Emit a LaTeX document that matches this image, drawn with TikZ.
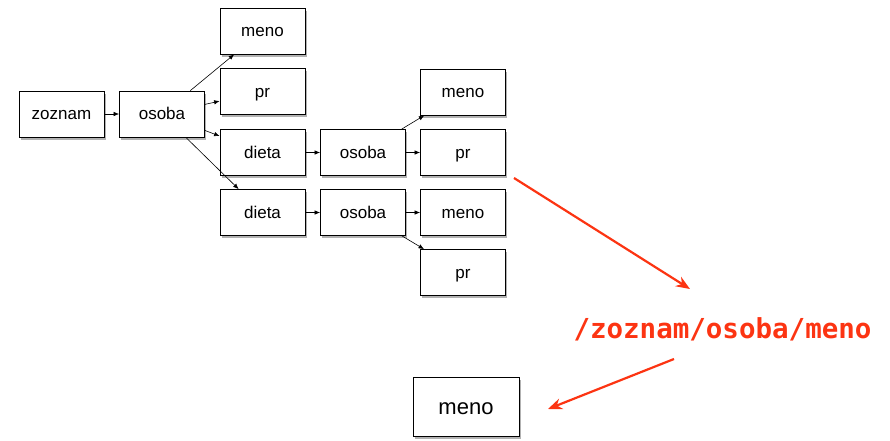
\documentclass[tikz,border=0pt]{standalone}
\usepackage{fontspec}
\setmainfont{Liberation Sans}
\newfontfamily\pathfont{DejaVu Sans Mono}
\usetikzlibrary{arrows.meta,shadows}
\definecolor{hotred}{RGB}{252,52,18}
\tikzset{
  box/.style={draw, line width=0.8pt, fill=white, minimum width=85pt, minimum height=46pt,
    inner sep=0pt, text height=14.5pt, text depth=3pt, font=\fontsize{17}{20}\selectfont,
    drop shadow={shadow xshift=1.5pt, shadow yshift=-2.5pt, opacity=0.3, fill=black}},
  bigbox/.style={box, minimum width=106pt, minimum height=59pt, text height=19pt, text depth=3.5pt,
    font=\fontsize{22}{26}\selectfont},
  link/.style={line width=0.6pt, -{Latex[length=5.5pt,width=4.5pt]}},
  redlink/.style={hotred, line width=2.2pt, -{Stealth[length=14pt,width=11pt]}}
}
\begin{document}
\begin{tikzpicture}[x=1pt,y=-1pt]
\useasboundingbox (0,0) rectangle (890,440);
\node[box] (zoznam) at (61.5,114) {zoznam};
\node[box] (osoba) at (162,114) {osoba};
\node[box] (meno) at (262.5,31) {meno};
\node[box] (pr) at (262.5,91.5) {pr};
\node[box] (dietaA) at (262.5,152.5) {dieta};
\node[box] (dietaB) at (262.5,212.5) {dieta};
\node[box] (osobaA) at (363,152.5) {osoba};
\node[box] (osobaB) at (363,212.5) {osoba};
\node[box] (menoA) at (463,92) {meno};
\node[box] (prA) at (463,152.5) {pr};
\node[box] (menoB) at (463,212.5) {meno};
\node[box] (prB) at (463,272.5) {pr};
\node[bigbox] (result) at (466,406.5) {meno};
\node[anchor=base, text=hotred, font=\pathfont\bfseries\fontsize{27.5}{30}\selectfont, inner sep=0pt] (path) at (722.5,338) {/zoznam/osoba/meno};

\draw[link] (zoznam) -- (osoba);
\draw[link] (osoba) -- (meno);
\draw[link] (osoba) -- (pr);
\draw[link] (osoba) -- (dietaA);
\draw[link] (osoba) -- (dietaB);
\draw[link] (dietaA) -- (osobaA);
\draw[link] (dietaB) -- (osobaB);
\draw[link] (osobaA) -- (menoA);
\draw[link] (osobaA) -- (prA);
\draw[link] (osobaB) -- (menoB);
\draw[link] (osobaB) -- (prB);

\coordinate (r1s) at (514,178);
\coordinate (r1e) at (690,289);
\coordinate (r2s) at (674,359);
\coordinate (r2e) at (548,409);
\draw[redlink] (r1s) -- (r1e);
\draw[redlink] (r2s) -- (r2e);
\end{tikzpicture}
\end{document}
